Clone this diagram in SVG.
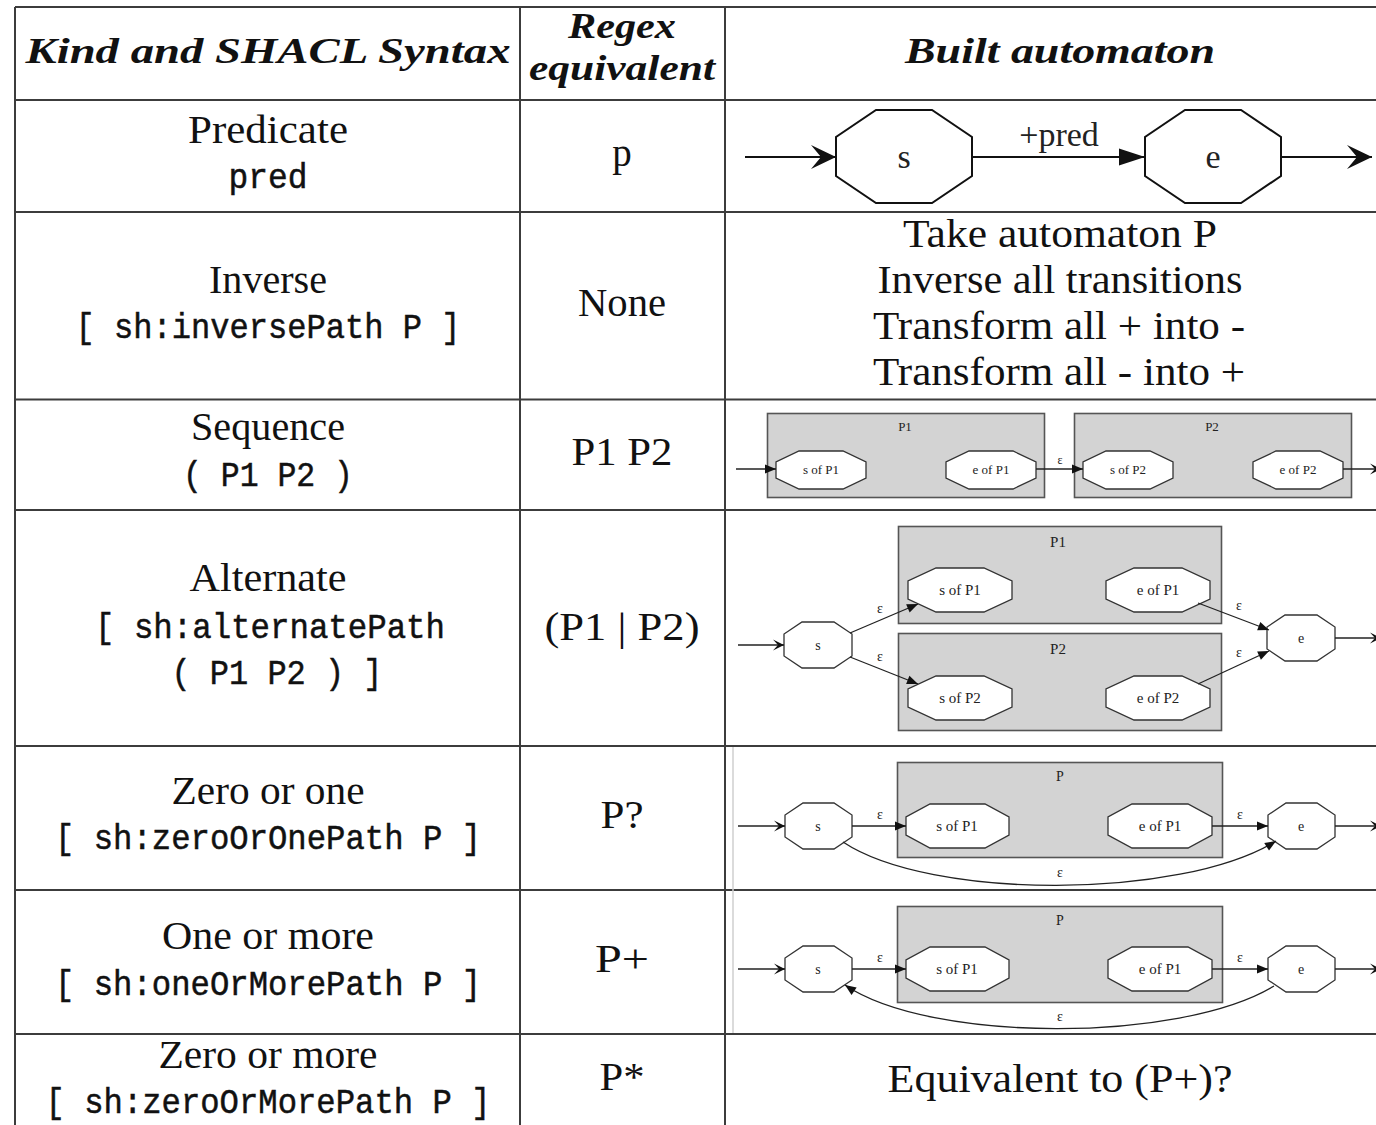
<svg xmlns="http://www.w3.org/2000/svg" width="1376" height="1125" viewBox="0 0 1376 1125">
  <style>
    .grid { stroke: #3c3c3c; stroke-width: 2; fill: none; }
    .faint { stroke: #cfcfcf; stroke-width: 1.5; fill: none; }
    .hd { font-family: "Liberation Serif", "DejaVu Serif", serif; font-weight: bold; font-style: italic; font-size: 36px; fill: #111; text-anchor: middle; }
    .rm { font-family: "Liberation Serif", "DejaVu Serif", serif; font-size: 39px; fill: #111; text-anchor: middle; }
    .tt { font-family: "Liberation Mono", "DejaVu Sans Mono", monospace; font-size: 35px; fill: #111; text-anchor: middle; stroke: #111; stroke-width: 0.5; }
    .lbl { font-family: "Liberation Serif", "DejaVu Serif", serif; fill: #222; text-anchor: middle; }
    .oct { fill: #fff; stroke: #333; stroke-width: 1.3; }
    .octL { fill: #fff; stroke: #111; stroke-width: 2; }
    .clu { fill: #d3d3d3; stroke: #555; stroke-width: 1.6; }
    .edge { stroke: #222; stroke-width: 1.3; fill: none; }
    .edgeL { stroke: #111; stroke-width: 2.2; fill: none; }
  </style>
  <defs>
    <marker id="triL" markerUnits="userSpaceOnUse" viewBox="-30 -15 32 30" refX="0" refY="0" markerWidth="32" markerHeight="30" orient="auto" overflow="visible">
      <path d="M0,0 L-26,-8.5 L-26,8.5 Z" fill="#111"/>
    </marker>
    <marker id="veeL" markerUnits="userSpaceOnUse" viewBox="-30 -15 32 30" refX="0" refY="0" markerWidth="32" markerHeight="30" orient="auto" overflow="visible">
      <path d="M0,0 L-25,-12 L-15,0 L-25,12 Z" fill="#111"/>
    </marker>
    <marker id="triS" markerUnits="userSpaceOnUse" viewBox="-14 -7 16 14" refX="0" refY="0" markerWidth="16" markerHeight="14" orient="auto" overflow="visible">
      <path d="M0,0 L-11,-4.5 L-11,4.5 Z" fill="#111"/>
    </marker>
    <marker id="veeS" markerUnits="userSpaceOnUse" viewBox="-14 -7 16 14" refX="0" refY="0" markerWidth="16" markerHeight="14" orient="auto" overflow="visible">
      <path d="M0,0 L-11,-5.5 L-6,0 L-11,5.5 Z" fill="#111"/>
    </marker>
  </defs>

  <rect width="1376" height="1125" fill="#fff"/>

  <!-- table rules -->
  <g id="table-grid">
    <path class="grid" d="M15,7 H1376 M15,7 V1125 M520,7 V1125 M725,7 V1125"/>
    <path class="grid" d="M15,100 H1376 M15,212 H1376 M15,399.5 H1376 M15,510 H1376 M15,746 H1376 M15,890 H1376 M15,1034 H1376"/>
    <path class="faint" d="M733,747 V1033"/>
  </g>

  <!-- header row -->
  <g id="header">
    <text class="hd" x="268" y="63" textLength="485" lengthAdjust="spacingAndGlyphs">Kind and SHACL Syntax</text>
    <text class="hd" x="622" y="38" textLength="108" lengthAdjust="spacingAndGlyphs">Regex</text>
    <text class="hd" x="622" y="80" textLength="186" lengthAdjust="spacingAndGlyphs">equivalent</text>
    <text class="hd" x="1060" y="63" textLength="310" lengthAdjust="spacingAndGlyphs">Built automaton</text>
  </g>

  <!-- first column: kind and SHACL syntax -->
  <g id="col-kind">
    <text class="rm" x="268" y="143" textLength="160" lengthAdjust="spacingAndGlyphs">Predicate</text>
    <text class="tt" x="268" y="188" textLength="79" lengthAdjust="spacingAndGlyphs">pred</text>
    <text class="rm" x="268" y="293" textLength="118" lengthAdjust="spacingAndGlyphs">Inverse</text>
    <text class="tt" x="268" y="338" textLength="385" lengthAdjust="spacingAndGlyphs">[ sh:inversePath P ]</text>
    <text class="rm" x="268" y="440" textLength="154" lengthAdjust="spacingAndGlyphs">Sequence</text>
    <text class="tt" x="268" y="486" textLength="170" lengthAdjust="spacingAndGlyphs">( P1 P2 )</text>
    <text class="rm" x="268" y="591" textLength="157" lengthAdjust="spacingAndGlyphs">Alternate</text>
    <text class="tt" x="270" y="638" textLength="350" lengthAdjust="spacingAndGlyphs">[ sh:alternatePath</text>
    <text class="tt" x="277" y="684" textLength="211" lengthAdjust="spacingAndGlyphs">( P1 P2 ) ]</text>
    <text class="rm" x="268" y="804" textLength="193" lengthAdjust="spacingAndGlyphs">Zero or one</text>
    <text class="tt" x="268" y="849" textLength="426" lengthAdjust="spacingAndGlyphs">[ sh:zeroOrOnePath P ]</text>
    <text class="rm" x="268" y="949" textLength="212" lengthAdjust="spacingAndGlyphs">One or more</text>
    <text class="tt" x="268" y="995" textLength="426" lengthAdjust="spacingAndGlyphs">[ sh:oneOrMorePath P ]</text>
    <text class="rm" x="268" y="1068" textLength="219" lengthAdjust="spacingAndGlyphs">Zero or more</text>
    <text class="tt" x="268" y="1113" textLength="445" lengthAdjust="spacingAndGlyphs">[ sh:zeroOrMorePath P ]</text>
  </g>

  <!-- second column: regex equivalent -->
  <g id="col-regex">
    <text class="rm" x="622" y="166">p</text>
    <text class="rm" x="622" y="316" textLength="88" lengthAdjust="spacingAndGlyphs">None</text>
    <text class="rm" x="622" y="465" textLength="101" lengthAdjust="spacingAndGlyphs">P1 P2</text>
    <text class="rm" x="622" y="640" textLength="155" lengthAdjust="spacingAndGlyphs">(P1 | P2)</text>
    <text class="rm" x="622" y="828" textLength="43" lengthAdjust="spacingAndGlyphs">P?</text>
    <text class="rm" x="622" y="972" textLength="54" lengthAdjust="spacingAndGlyphs">P+</text>
    <text class="rm" x="622" y="1090" textLength="45" lengthAdjust="spacingAndGlyphs">P*</text>
  </g>

  <!-- third column: textual descriptions -->
  <g id="col-text">
    <text class="rm" x="1060" y="247" textLength="314" lengthAdjust="spacingAndGlyphs">Take automaton P</text>
    <text class="rm" x="1060" y="293" textLength="365" lengthAdjust="spacingAndGlyphs">Inverse all transitions</text>
    <text class="rm" x="1059" y="339" textLength="372" lengthAdjust="spacingAndGlyphs">Transform all + into -</text>
    <text class="rm" x="1059" y="385" textLength="372" lengthAdjust="spacingAndGlyphs">Transform all - into +</text>
    <text class="rm" x="1060" y="1092" textLength="345" lengthAdjust="spacingAndGlyphs">Equivalent to (P+)?</text>
  </g>

  <!-- predicate automaton -->
  <g id="pred-automaton">
    <g id="pred-s">
      <polygon class="octL" points="876,110 932,110 972,137 972,176 932,203 876,203 836,176 836,137"/>
      <text class="lbl" x="904" y="168" font-size="34">s</text>
    </g>
    <g id="pred-e">
      <polygon class="octL" points="1185,110 1241,110 1281,137 1281,176 1241,203 1185,203 1145,176 1145,137"/>
      <text class="lbl" x="1213" y="168" font-size="34">e</text>
    </g>
    <g id="pred-edges">
      <path class="edgeL" d="M745,157 H836" marker-end="url(#veeL)"/>
      <path class="edgeL" d="M972,157 H1145" marker-end="url(#triL)"/>
      <path class="edgeL" d="M1282,157 H1372" marker-end="url(#veeL)"/>
      <text class="lbl" x="1059" y="146" font-size="34">+pred</text>
    </g>
  </g>

  <!-- sequence automaton -->
  <g id="seq-automaton">
    <g id="seq-P1">
      <rect class="clu" x="767.5" y="413.5" width="277" height="84"/>
      <text class="lbl" x="905" y="431" font-size="13">P1</text>
    </g>
    <g id="seq-P2">
      <rect class="clu" x="1074.5" y="413.5" width="277" height="84"/>
      <text class="lbl" x="1212" y="431" font-size="13">P2</text>
    </g>
    <g id="seq-sP1">
      <polygon class="oct" points="799,451 843,451 866,462 866,478 843,489 799,489 776,478 776,462"/>
      <text class="lbl" x="821" y="474" font-size="13">s of P1</text>
    </g>
    <g id="seq-eP1">
      <polygon class="oct" points="969,451 1013,451 1036,462 1036,478 1013,489 969,489 946,478 946,462"/>
      <text class="lbl" x="991" y="474" font-size="13">e of P1</text>
    </g>
    <g id="seq-sP2">
      <polygon class="oct" points="1106,451 1150,451 1173,462 1173,478 1150,489 1106,489 1083,478 1083,462"/>
      <text class="lbl" x="1128" y="474" font-size="13">s of P2</text>
    </g>
    <g id="seq-eP2">
      <polygon class="oct" points="1276,451 1320,451 1343,462 1343,478 1320,489 1276,489 1253,478 1253,462"/>
      <text class="lbl" x="1298" y="474" font-size="13">e of P2</text>
    </g>
    <g id="seq-edges">
      <path class="edge" d="M736,469 H776" marker-end="url(#triS)"/>
      <path class="edge" d="M1036,469 H1083" marker-end="url(#triS)"/>
      <text class="lbl" x="1060" y="464" font-size="12">ε</text>
      <path class="edge" d="M1343,469 H1381" marker-end="url(#veeS)"/>
    </g>
  </g>

  <!-- alternate automaton -->
  <g id="alt-automaton">
    <g id="alt-P1">
      <rect class="clu" x="898.5" y="526.5" width="323" height="97"/>
      <text class="lbl" x="1058" y="547" font-size="15">P1</text>
    </g>
    <g id="alt-P2">
      <rect class="clu" x="898.5" y="633.5" width="323" height="97"/>
      <text class="lbl" x="1058" y="654" font-size="15">P2</text>
    </g>
    <g id="alt-s">
      <polygon class="oct" points="802,622 834,622 852,634 852,656 834,668 802,668 784,656 784,634"/>
      <text class="lbl" x="818" y="650" font-size="14">s</text>
    </g>
    <g id="alt-e">
      <polygon class="oct" points="1285,615 1317,615 1335,627 1335,649 1317,661 1285,661 1267,649 1267,627"/>
      <text class="lbl" x="1301" y="643" font-size="14">e</text>
    </g>
    <g id="alt-sP1">
      <polygon class="oct" points="936,568 984,568 1012,581 1012,599 984,612 936,612 908,599 908,581"/>
      <text class="lbl" x="960" y="595" font-size="15">s of P1</text>
    </g>
    <g id="alt-eP1">
      <polygon class="oct" points="1134,568 1182,568 1210,581 1210,599 1182,612 1134,612 1106,599 1106,581"/>
      <text class="lbl" x="1158" y="595" font-size="15">e of P1</text>
    </g>
    <g id="alt-sP2">
      <polygon class="oct" points="936,676 984,676 1012,689 1012,707 984,720 936,720 908,707 908,689"/>
      <text class="lbl" x="960" y="703" font-size="15">s of P2</text>
    </g>
    <g id="alt-eP2">
      <polygon class="oct" points="1134,676 1182,676 1210,689 1210,707 1182,720 1134,720 1106,707 1106,689"/>
      <text class="lbl" x="1158" y="703" font-size="15">e of P2</text>
    </g>
    <g id="alt-edges">
      <path class="edge" d="M738,645 H784" marker-end="url(#veeS)"/>
      <path class="edge" d="M850,633 L918,604" marker-end="url(#triS)"/>
      <text class="lbl" x="880" y="613" font-size="14">ε</text>
      <path class="edge" d="M850,657 L918,684" marker-end="url(#triS)"/>
      <text class="lbl" x="880" y="661" font-size="14">ε</text>
      <path class="edge" d="M1198,603 L1269,630" marker-end="url(#triS)"/>
      <text class="lbl" x="1239" y="610" font-size="14">ε</text>
      <path class="edge" d="M1198,684 L1269,651" marker-end="url(#triS)"/>
      <text class="lbl" x="1239" y="657" font-size="14">ε</text>
      <path class="edge" d="M1335,638 H1381" marker-end="url(#veeS)"/>
    </g>
  </g>

  <!-- zero-or-one automaton -->
  <g id="opt-automaton">
    <g id="opt-P">
      <rect class="clu" x="897.5" y="762.5" width="325" height="95"/>
      <text class="lbl" x="1060" y="781" font-size="14">P</text>
    </g>
    <g id="opt-s">
      <polygon class="oct" points="803,803 834,803 852,815 852,837 834,849 803,849 785,837 785,815"/>
      <text class="lbl" x="818" y="831" font-size="14">s</text>
    </g>
    <g id="opt-sP1">
      <polygon class="oct" points="930,804 985,804 1009,817 1009,835 985,848 930,848 906,835 906,817"/>
      <text class="lbl" x="957" y="831" font-size="15">s of P1</text>
    </g>
    <g id="opt-eP1">
      <polygon class="oct" points="1132,804 1188,804 1212,817 1212,835 1188,848 1132,848 1108,835 1108,817"/>
      <text class="lbl" x="1160" y="831" font-size="15">e of P1</text>
    </g>
    <g id="opt-e">
      <polygon class="oct" points="1286,803 1317,803 1335,815 1335,837 1317,849 1286,849 1268,837 1268,815"/>
      <text class="lbl" x="1301" y="831" font-size="14">e</text>
    </g>
    <g id="opt-edges">
      <path class="edge" d="M738,826 H785" marker-end="url(#veeS)"/>
      <path class="edge" d="M852,826 H906" marker-end="url(#triS)"/>
      <text class="lbl" x="880" y="819" font-size="14">ε</text>
      <path class="edge" d="M1212,826 H1268" marker-end="url(#triS)"/>
      <text class="lbl" x="1240" y="819" font-size="14">ε</text>
      <path class="edge" d="M1335,826 H1381" marker-end="url(#veeS)"/>
      <path class="edge" d="M843,842 C930,900 1180,900 1276,841" marker-end="url(#triS)"/>
      <text class="lbl" x="1060" y="877" font-size="14">ε</text>
    </g>
  </g>

  <!-- one-or-more automaton -->
  <g id="plus-automaton">
    <g id="plus-P">
      <rect class="clu" x="897.5" y="906.5" width="325" height="96"/>
      <text class="lbl" x="1060" y="925" font-size="14">P</text>
    </g>
    <g id="plus-s">
      <polygon class="oct" points="803,946 834,946 852,958 852,980 834,992 803,992 785,980 785,958"/>
      <text class="lbl" x="818" y="974" font-size="14">s</text>
    </g>
    <g id="plus-sP1">
      <polygon class="oct" points="930,947 985,947 1009,960 1009,978 985,991 930,991 906,978 906,960"/>
      <text class="lbl" x="957" y="974" font-size="15">s of P1</text>
    </g>
    <g id="plus-eP1">
      <polygon class="oct" points="1132,947 1188,947 1212,960 1212,978 1188,991 1132,991 1108,978 1108,960"/>
      <text class="lbl" x="1160" y="974" font-size="15">e of P1</text>
    </g>
    <g id="plus-e">
      <polygon class="oct" points="1286,946 1317,946 1335,958 1335,980 1317,992 1286,992 1268,980 1268,958"/>
      <text class="lbl" x="1301" y="974" font-size="14">e</text>
    </g>
    <g id="plus-edges">
      <path class="edge" d="M738,969 H785" marker-end="url(#veeS)"/>
      <path class="edge" d="M852,969 H906" marker-end="url(#triS)"/>
      <text class="lbl" x="880" y="962" font-size="14">ε</text>
      <path class="edge" d="M1212,969 H1268" marker-end="url(#triS)"/>
      <text class="lbl" x="1240" y="962" font-size="14">ε</text>
      <path class="edge" d="M1335,969 H1381" marker-end="url(#veeS)"/>
      <path class="edge" d="M1274,986 C1180,1043 930,1043 845,985" marker-end="url(#triS)"/>
      <text class="lbl" x="1060" y="1021" font-size="14">ε</text>
    </g>
  </g>
</svg>
